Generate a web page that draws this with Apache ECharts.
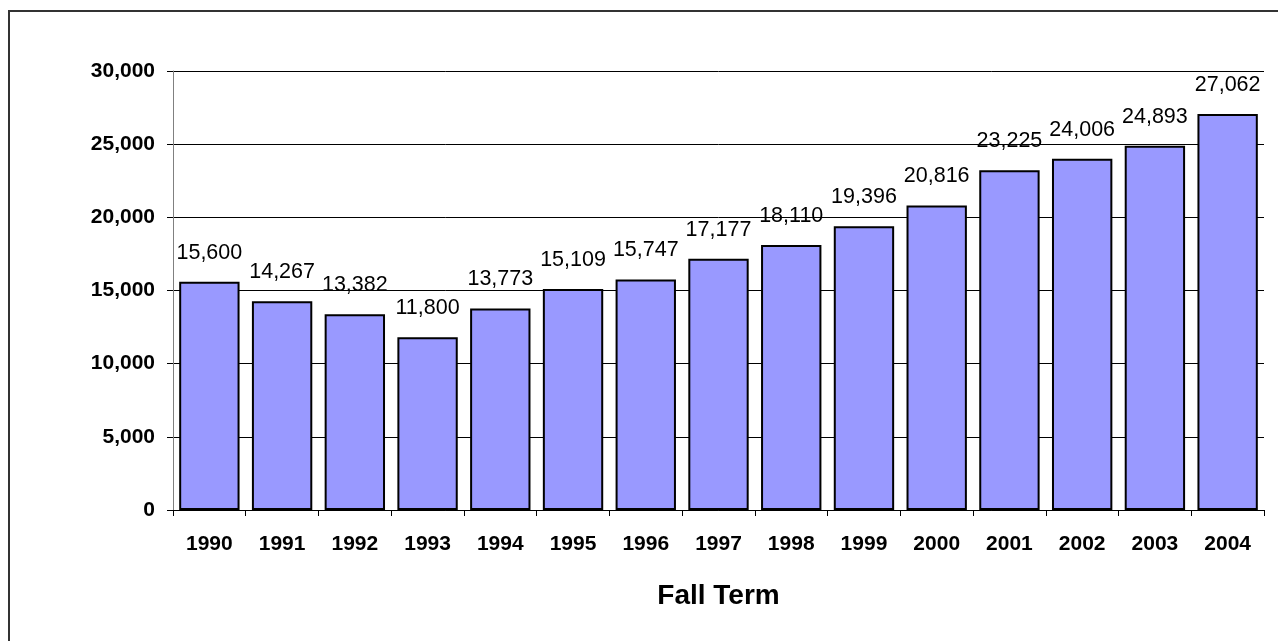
<!DOCTYPE html>
<html><head><meta charset="utf-8">
<script src="https://cdn.jsdelivr.net/npm/echarts@6/dist/echarts.min.js"></script>
<style>html,body{margin:0;padding:0;background:#fff}#c{width:1278px;height:641px}</style>
</head><body><div id="c"></div>
<script>
const categories = ['1990','1991','1992','1993','1994','1995','1996','1997','1998','1999','2000','2001','2002','2003','2004'];
const enrollment = [15600,14267,13382,11800,13773,15109,15747,17177,18110,19396,20816,23225,24006,24893,27062];
const axisTitle = 'Fall Term';

const chart = echarts.init(document.getElementById('c'));
chart.setOption({
  animation: false,
  backgroundColor: '#fff',
  textStyle: { fontFamily: 'Liberation Sans, Arial, sans-serif' },
  graphic: [{ type: 'rect', shape: { x: 9, y: 11, width: 1400, height: 800 }, style: { fill: 'none', stroke: '#333', lineWidth: 2 }, silent: true }],
  grid: { left: 173, right: 14, top: 71, bottom: 131 },
  xAxis: {
    type: 'category', data: categories,
    name: axisTitle, nameLocation: 'middle', nameGap: 72,
    nameTextStyle: { fontSize: 28, fontWeight: 'bold', color: '#000' },
    axisLine: { lineStyle: { color: '#000', width: 1 } },
    axisTick: { show: true, length: 6, lineStyle: { color: '#000' } },
    axisLabel: { fontSize: 21, fontWeight: 'bold', color: '#000', margin: 24 }
  },
  yAxis: {
    type: 'value', min: 0, max: 30000, interval: 5000,
    axisLine: { show: true, lineStyle: { color: '#808080', width: 1 } },
    axisTick: { show: true, length: 6, lineStyle: { color: '#000' } },
    splitLine: { lineStyle: { color: '#000', width: 1 } },
    axisLabel: { fontSize: 21, fontWeight: 'bold', color: '#000', margin: 18,
      formatter: v => v.toLocaleString('en-US') }
  },
  series: [{
    type: 'bar', data: enrollment, barCategoryGap: '17%',
    itemStyle: { color: '#9999FF', borderColor: '#000', borderWidth: 2 },
    label: { show: true, position: 'top', distance: 18, fontSize: 21.5, color: '#000',
      formatter: p => p.value.toLocaleString('en-US') }
  }]
});
</script></body></html>
